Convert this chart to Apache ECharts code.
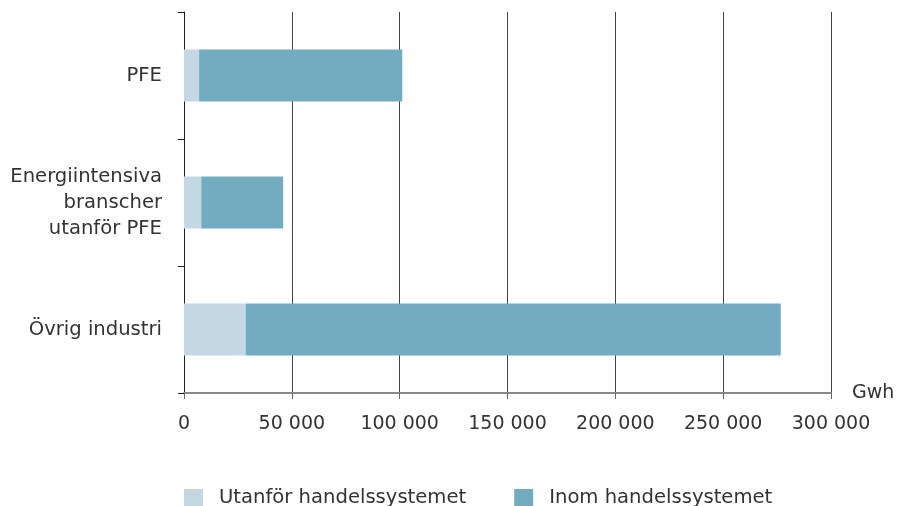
<!DOCTYPE html>
<html>
<head>
<meta charset="utf-8">
<script src="https://cdn.jsdelivr.net/npm/echarts@6/dist/echarts.min.js"></script>
<style>
  html, body { margin: 0; padding: 0; background: #fff; }
  #chart { width: 898px; height: 506px; }
</style>
</head>
<body>
<div id="chart"></div>
<script>
const categories = ['Övrig industri', 'Energiintensiva\nbranscher\nutanför PFE', 'PFE']
const utanfor = [28600, 8000, 7000]
const inom = [248100, 38000, 94200]
const seriesNames = ['Utanför handelssystemet', 'Inom handelssystemet']
const xTicks = [0, 50000, 100000, 150000, 200000, 250000, 300000]

const font = '"DejaVu Sans", sans-serif'
const fmt = v => v === 0 ? '0' : String(v).replace(/\B(?=(\d{3})+(?!\d))/g, ' ')

let chart = echarts.init(document.getElementById('chart'))
chart.setOption({
    animation: false,
    textStyle: { fontFamily: font },
    grid: { left: 184, right: 67, top: 12, bottom: 113 },
    legend: {
        data: seriesNames,
        top: 483,
        left: 179,
        itemWidth: 19,
        itemHeight: 18,
        itemGap: 48,
        icon: 'rect',
        textStyle: { fontSize: 19.6, color: '#333', fontFamily: font, padding: [0, 0, 0, 11] }
    },
    xAxis: {
        type: 'value',
        min: 0,
        max: 300000,
        interval: 50000,
        name: 'Gwh',
        nameLocation: 'end',
        nameGap: 21,
        nameTextStyle: { fontSize: 19, color: '#333', verticalAlign: 'middle', padding: [0, 0, 0, 0] },
        axisLine: { show: true, lineStyle: { color: '#888', width: 2 } },
        axisTick: { show: true, length: 6, lineStyle: { color: '#666' } },
        splitLine: { show: true, lineStyle: { color: '#444', width: 1 } },
        axisLabel: {
            fontSize: 19,
            color: '#333',
            margin: 22,
            formatter: fmt,
            customValues: xTicks
        }
    },
    yAxis: {
        type: 'category',
        data: categories,
        axisLine: { show: true, lineStyle: { color: '#222', width: 1 } },
        axisTick: { show: true, length: 6, lineStyle: { color: '#222' } },
        axisLabel: {
            fontSize: 19.6,
            color: '#333',
            margin: 22,
            lineHeight: 26,
            align: 'right'
        }
    },
    series: [
        {
            name: seriesNames[0],
            type: 'bar',
            stack: 'total',
            data: utanfor,
            barWidth: '41%',
            itemStyle: { color: '#c3d8e3' }
        },
        {
            name: seriesNames[1],
            type: 'bar',
            stack: 'total',
            data: inom,
            barWidth: '41%',
            itemStyle: { color: '#73acc1' }
        }
    ]
});
</script>
</body>
</html>
